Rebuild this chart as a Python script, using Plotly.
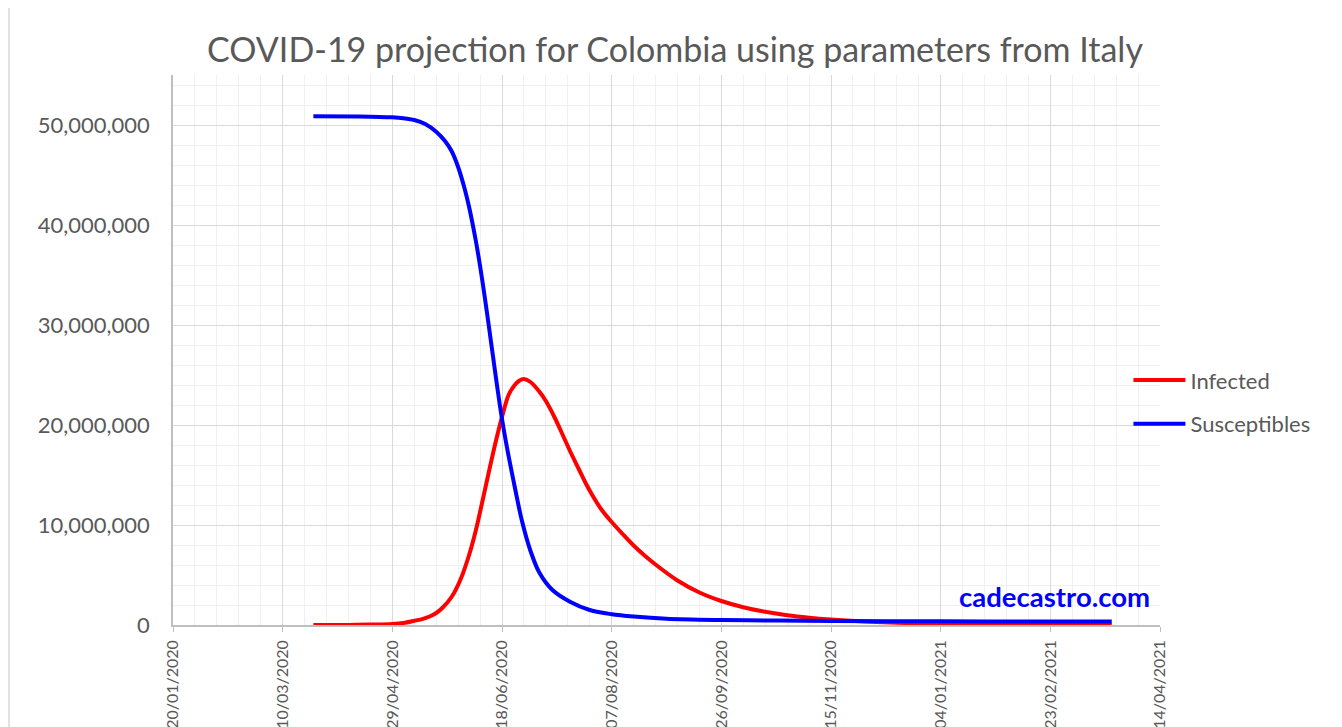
import plotly.graph_objects as go

# ---- data ----
sus_dates = ["2020-03-24", "2020-04-14", "2020-04-29", "2020-05-04", "2020-05-09", "2020-05-14",
             "2020-05-19", "2020-05-23", "2020-05-26", "2020-05-29", "2020-06-01", "2020-06-03",
             "2020-06-06", "2020-06-08", "2020-06-10", "2020-06-12", "2020-06-14", "2020-06-17",
             "2020-06-19", "2020-06-21", "2020-06-24", "2020-06-27", "2020-07-01", "2020-07-05",
             "2020-07-11", "2020-07-19", "2020-07-28", "2020-08-07", "2020-08-17", "2020-09-01",
             "2020-09-26", "2020-10-21", "2020-11-15", "2021-01-04", "2021-02-23", "2021-03-23"]
susceptibles = [50.88e6, 50.86e6, 50.77e6, 50.68e6, 50.5e6, 50.1e6,
                49.33e6, 48.4e6, 47.4e6, 45.8e6, 43.6e6, 41.8e6,
                38.5e6, 35.9e6, 33.0e6, 29.9e6, 26.7e6, 22.0e6,
                19.3e6, 16.9e6, 13.6e6, 10.5e6, 7.4e6, 5.25e6,
                3.5e6, 2.33e6, 1.5e6, 1.08e6, 0.85e6, 0.63e6,
                0.5e6, 0.44e6, 0.40e6, 0.37e6, 0.355e6, 0.35e6]

inf_dates = ["2020-03-24", "2020-04-09", "2020-04-19", "2020-04-29", "2020-05-04", "2020-05-09",
             "2020-05-13", "2020-05-16", "2020-05-19", "2020-05-22", "2020-05-26", "2020-05-30",
             "2020-06-03", "2020-06-06", "2020-06-09", "2020-06-12", "2020-06-15", "2020-06-18",
             "2020-06-21", "2020-06-24", "2020-06-26", "2020-06-28", "2020-07-01", "2020-07-05",
             "2020-07-08", "2020-07-12", "2020-07-16", "2020-07-19", "2020-07-23", "2020-07-26",
             "2020-07-29", "2020-08-02", "2020-08-07", "2020-08-12", "2020-08-17", "2020-08-22",
             "2020-08-27", "2020-09-06", "2020-09-16", "2020-09-26", "2020-10-06", "2020-10-16",
             "2020-10-26", "2020-11-05", "2020-11-15", "2020-11-30", "2020-12-15", "2021-01-04",
             "2021-01-29", "2021-02-23", "2021-03-23"]
infected = [0.0, 0.01e6, 0.04e6, 0.1e6, 0.2e6, 0.42e6,
            0.62e6, 0.85e6, 1.2e6, 1.75e6, 2.8e6, 4.5e6,
            7.0e6, 9.4e6, 12.3e6, 15.3e6, 18.2e6, 20.8e6,
            23.0e6, 24.05e6, 24.45e6, 24.6e6, 24.3e6, 23.35e6,
            22.4e6, 20.75e6, 18.85e6, 17.4e6, 15.6e6, 14.25e6,
            13.05e6, 11.65e6, 10.3e6, 9.1e6, 7.95e6, 6.95e6,
            6.05e6, 4.45e6, 3.25e6, 2.4e6, 1.78e6, 1.32e6,
            0.97e6, 0.72e6, 0.54e6, 0.35e6, 0.22e6, 0.13e6,
            0.07e6, 0.045e6, 0.03e6]

title_text = "COVID-19 projection for Colombia using parameters from Italy"
watermark = "cadecastro.com"
x_start, x_end = "2020-01-20", "2021-04-14"

FONT = "Lato, 'Open Sans', sans-serif"
GREY = "#595959"
DAY = 86400000

fig = go.Figure()
fig.add_trace(go.Scatter(x=inf_dates, y=infected, name="Infected", mode="lines",
                         line=dict(color="#FF0000", width=4, shape="spline", smoothing=0.9),
                         legendgroup="a"))
fig.add_trace(go.Scatter(x=sus_dates, y=susceptibles, name="Susceptibles", mode="lines",
                         line=dict(color="#0000FF", width=4, shape="spline", smoothing=0.9),
                         legendgroup="b"))

# page body has an 8px margin, so the figure is sized/offset to compensate
fig.update_layout(
    width=1334, height=719,
    margin=dict(l=165, r=182, t=67, b=102, autoexpand=False),
    paper_bgcolor="white", plot_bgcolor="white",
    font=dict(family=FONT, color=GREY, size=22),
    title=dict(text=title_text, x=0.5, xanchor="center", y=0.9416, yanchor="middle",
               font=dict(size=34, color=GREY, family=FONT)),
    legend=dict(x=0.968, xanchor="left", y=0.405, yanchor="middle",
                font=dict(size=22, color=GREY), itemwidth=52,
                tracegroupgap=12, traceorder="grouped", bgcolor="rgba(0,0,0,0)"),
    showlegend=True,
)

fig.update_xaxes(
    type="date", range=[x_start, x_end], automargin=False,
    tick0=x_start, dtick=50 * DAY, tickformat="%d/%m/%Y", tickangle=-90,
    showgrid=True, gridcolor="#d9d9d9", gridwidth=1,
    minor=dict(dtick=10 * DAY, tick0=x_start, showgrid=True, gridcolor="#f0f0f0", gridwidth=1),
    showline=True, linecolor="#bfbfbf", linewidth=1.5,
    ticks="outside", ticklen=5, tickcolor="#bfbfbf", ticklabelstandoff=2,
    tickfont=dict(size=16, color=GREY), zeroline=False,
)
fig.update_yaxes(
    range=[0, 55e6], dtick=10e6, tickformat=",d", automargin=False,
    showgrid=True, gridcolor="#d9d9d9", gridwidth=1,
    minor=dict(dtick=2e6, showgrid=True, gridcolor="#f0f0f0", gridwidth=1),
    showline=True, linecolor="#bfbfbf", linewidth=1.5,
    ticks="", ticklabelstandoff=17,
    tickfont=dict(size=22, color=GREY), zeroline=False,
)

fig.add_annotation(text="<b>" + watermark + "</b>", xref="paper", yref="paper",
                   x=0.992, y=0.051, xanchor="right", yanchor="middle", showarrow=False,
                   font=dict(size=27.5, color="#0000FF", family=FONT))

# outer chart border
fig.add_shape(type="rect", xref="paper", yref="paper",
              x0=(9 - 173) / 987, x1=(1335 - 173) / 987,
              y0=(625 - 740) / 550, y1=(625 - 7) / 550,
              line=dict(color="#d9d9d9", width=1.5), fillcolor="rgba(0,0,0,0)", layer="below")

fig.write_html("out.html")
